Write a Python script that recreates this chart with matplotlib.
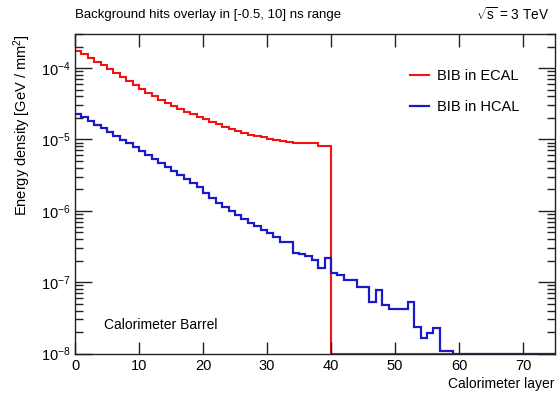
import numpy as np
import matplotlib
matplotlib.use("Agg")
import matplotlib.pyplot as plt
from matplotlib.ticker import LogLocator, NullFormatter, MultipleLocator

plt.rcParams['font.family'] = ['Liberation Sans', 'DejaVu Sans']
plt.rcParams['mathtext.fontset'] = 'custom'
plt.rcParams['mathtext.rm'] = 'Liberation Sans'
plt.rcParams['mathtext.it'] = 'Liberation Sans:italic'

# Layer bin edges 0..75
layer_edges = list(range(0, 76))

ecal_density = [
    1.72e-4, 1.55e-4, 1.38e-4, 1.23e-4, 1.10e-4, 9.7e-5, 8.5e-5, 7.5e-5, 6.6e-5, 5.8e-5,
    5.1e-5, 4.54e-5, 4.06e-5, 3.62e-5, 3.24e-5, 2.94e-5, 2.67e-5, 2.43e-5, 2.24e-5, 2.07e-5,
    1.91e-5, 1.76e-5, 1.62e-5, 1.50e-5, 1.40e-5, 1.32e-5, 1.23e-5, 1.17e-5, 1.12e-5, 1.07e-5,
    1.02e-5, 9.85e-6, 9.5e-6, 9.2e-6, 8.8e-6, 8.8e-6, 8.8e-6, 8.8e-6, 7.98e-6, 7.98e-6,
] + [0.0] * 35

hcal_density = [
    2.29e-5, 2.03e-5, 1.79e-5, 1.60e-5, 1.43e-5, 1.27e-5, 1.12e-5, 9.85e-6, 8.8e-6, 7.85e-6,
    6.9e-6, 6.07e-6, 5.33e-6, 4.69e-6, 4.12e-6, 3.62e-6, 3.18e-6, 2.80e-6, 2.47e-6, 2.15e-6,
    1.75e-6, 1.50e-6, 1.30e-6, 1.13e-6, 9.85e-7, 8.65e-7, 7.6e-7, 6.8e-7, 6.07e-7, 5.42e-7,
    4.84e-7, 4.26e-7, 3.66e-7, 3.66e-7, 2.52e-7, 2.47e-7, 2.35e-7, 2.03e-7, 1.56e-7, 2.15e-7,
    1.34e-7, 1.27e-7, 1.07e-7, 1.07e-7, 8.5e-8, 8.5e-8, 5.25e-8, 7.7e-8, 4.77e-8, 4.15e-8,
    4.15e-8, 4.25e-8, 5.3e-8, 2.37e-8, 1.63e-8, 1.95e-8, 2.3e-8, 1.09e-8, 1.09e-8,
] + [0.0] * 16

ylo, yhi = 1e-8, 3e-4
xlo, xhi = 0, 75

fig = plt.figure(figsize=(5.58, 3.94), dpi=100)
ax = fig.add_axes([75/558, 1-353.5/394, 480/558, (353.5-34)/394])

edges = np.array(layer_edges, dtype=float)
ecal = np.maximum(np.array(ecal_density), ylo)
hcal = np.maximum(np.array(hcal_density), ylo)

ax.stairs(ecal, edges, baseline=None, color='#f01414', lw=1.5, label='BIB in ECAL')
ax.stairs(hcal, edges, baseline=None, color='#1a1ac8', lw=1.6, label='BIB in HCAL')

ax.set_yscale('log')
ax.set_xlim(xlo, xhi)
ax.set_ylim(ylo, yhi)

ax.xaxis.set_major_locator(MultipleLocator(10))
ax.yaxis.set_major_locator(LogLocator(base=10, numticks=20))
ax.yaxis.set_minor_locator(LogLocator(base=10, subs=np.arange(2, 10), numticks=20))
ax.yaxis.set_minor_formatter(NullFormatter())

ax.tick_params(axis='both', which='both', direction='in', top=True, right=True,
               colors='#222222', labelcolor='black', labelsize=10.5)
ax.tick_params(axis='x', which='major', length=9, width=1, pad=4)
ax.tick_params(axis='y', which='major', length=12, width=1, pad=3)
ax.tick_params(axis='y', which='minor', length=6, width=1)
for s in ax.spines.values():
    s.set_color('#222222')
    s.set_linewidth(1.0)

ax.set_xlabel('Calorimeter layer', fontsize=10, loc='right', labelpad=3)
ax.set_ylabel('Energy density [GeV / mm$^{2}$]', fontsize=10.5, loc='top', labelpad=6)

fig.text(75/558, 1-15/394, 'Background hits overlay in [-0.5, 10] ns range',
         fontsize=9.5, ha='left', va='center')
fig.text(549/558, 1-15/394, '$\\sqrt{\\mathrm{s}}$ = 3 TeV',
         fontsize=9.8, ha='right', va='center')

ax.text(0.061, 0.09, 'Calorimeter Barrel', transform=ax.transAxes,
        fontsize=10, ha='left', va='center')

leg = ax.legend(loc='upper left', bbox_to_anchor=(0.686, 0.908), frameon=False,
                fontsize=10.5, handlelength=1.3, handletextpad=0.55, labelspacing=1.15,
                borderaxespad=0.0)

fig.savefig('out.png', dpi=100)
